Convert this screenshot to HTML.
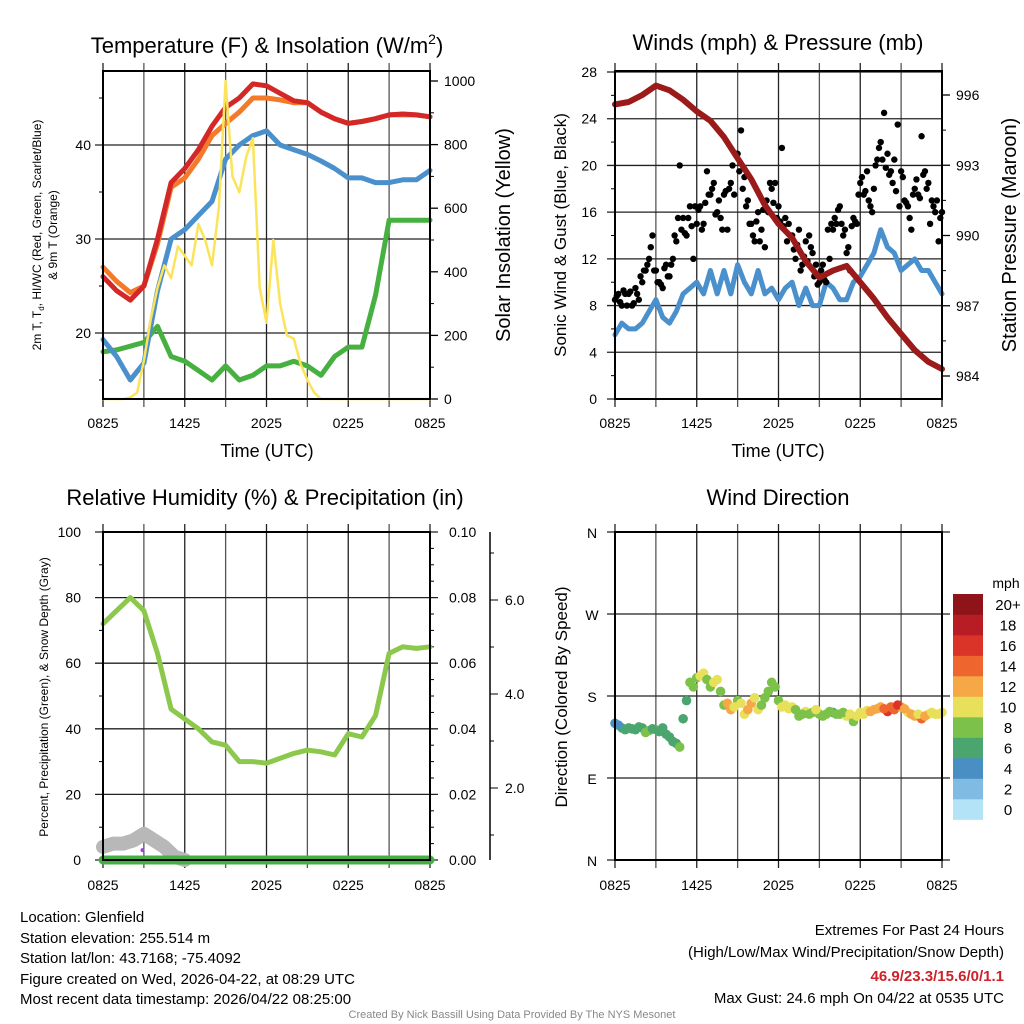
<!DOCTYPE html>
<html><head><meta charset="utf-8"><style>
html,body{margin:0;padding:0;background:#fff}
svg{display:block;font-family:"Liberation Sans",sans-serif}
</style></head><body>
<svg id="c" width="1024" height="1024" viewBox="0 0 1024 1024">
<g id="layer"></g>
<text x="267" y="53" font-size="22" text-anchor="middle">Temperature (F) &amp; Insolation (W/m<tspan dy="-9" font-size="14">2</tspan><tspan dy="9">)</tspan></text>
<text x="778" y="50" font-size="22" text-anchor="middle">Winds (mph) &amp; Pressure (mb)</text>
<text x="265" y="505" font-size="22" text-anchor="middle">Relative Humidity (%) &amp; Precipitation (in)</text>
<text x="778" y="505" font-size="22" text-anchor="middle">Wind Direction</text>
<text transform="translate(41,235) rotate(-90)" font-size="12" text-anchor="middle">2m T, T<tspan dy="3" font-size="8">d</tspan><tspan dy="-3">, HI/WC (Red, Green, Scarlet/Blue)</tspan></text>
<text transform="translate(57,235) rotate(-90)" font-size="12" text-anchor="middle">&amp; 9m T (Orange)</text>
<text transform="translate(510,235) rotate(-90)" font-size="20" text-anchor="middle">Solar Insolation (Yellow)</text>
<text transform="translate(566,235) rotate(-90)" font-size="17" text-anchor="middle">Sonic Wind &amp; Gust (Blue, Black)</text>
<text transform="translate(1016,235) rotate(-90)" font-size="20" text-anchor="middle">Station Pressure (Maroon)</text>
<text transform="translate(48,697) rotate(-90)" font-size="12" text-anchor="middle">Percent, Precipitation (Green), &amp; Snow Depth (Gray)</text>
<text transform="translate(567,697) rotate(-90)" font-size="17" text-anchor="middle">Direction (Colored By Speed)</text>
<text x="267" y="457" font-size="18" text-anchor="middle">Time (UTC)</text>
<text x="778" y="457" font-size="18" text-anchor="middle">Time (UTC)</text>
<text x="1006" y="588" font-size="14" text-anchor="middle">mph</text>
<g font-size="15">
<text x="20" y="922">Location: Glenfield</text>
<text x="20" y="943">Station elevation: 255.514 m</text>
<text x="20" y="963">Station lat/lon: 43.7168; -75.4092</text>
<text x="20" y="984">Figure created on Wed, 2026-04-22, at 08:29 UTC</text>
<text x="20" y="1004">Most recent data timestamp: 2026/04/22 08:25:00</text>
</g>
<g font-size="15" text-anchor="end">
<text x="1004" y="935">Extremes For Past 24 Hours</text>
<text x="1004" y="957">(High/Low/Max Wind/Precipitation/Snow Depth)</text>
<text x="1004" y="981" fill="#d0202a" font-weight="bold">46.9/23.3/15.6/0/1.1</text>
<text x="1004" y="1003">Max Gust: 24.6 mph On 04/22 at 0535 UTC</text>
</g>
<text x="512" y="1018" font-size="11" fill="#888" text-anchor="middle">Created By Nick Bassill Using Data Provided By The NYS Mesonet</text>
</svg>
<script>
// ---- data (hour offsets from 0825 UTC) ----
const hoursHourly = [0,1,2,3,4,5,6,7,8,9,10,11,12,13,14,15,16,17,18,19,20,21,22,23,24];
const tempRed = [26,24.5,23.5,25,30,36,37.5,39.5,42,44,45,46.5,46.3,45.5,44.7,44.5,43.5,42.8,42.3,42.5,42.8,43.2,43.3,43.2,43];
const temp9m = [27,25.5,24.3,25,29.5,35.5,36.5,38.5,41,42.3,43.5,45,45,44.8,44.5,44.5,43.5,42.8,42.3,42.5,42.8,43.2,43.2,43.2,43];
const hiwcBlue = [19.3,17.5,15,16.8,24.5,30,31,32.5,34,38.5,40,41,41.5,40,39.5,39,38.3,37.5,36.5,36.5,36,36,36.3,36.3,37.3];
const dewGreen = [18,18.2,18.6,19,20.7,17.5,17,16,15,16.5,15,15.5,16.5,16.5,17,16.5,15.5,17.5,18.5,18.5,24,32,32,32,32];
const solar = [0,0,0,0,5,20,120,250,350,420,380,480,450,420,550,500,420,600,1000,700,650,760,820,350,240,500,300,200,190,110,60,20,0,0,0,0,0,0,0,0,0,0,0,0,0,0,0,0,0];
const windSonic = [5.5,6.5,6,6,6.5,7.5,8.5,7,6.5,7.5,9,9.5,10,9,11,9,11,9,11.5,10,9,11,9,9.5,8.5,9.5,10,8,9.5,8,8,10,9.5,8.5,8.5,10,10.5,11.5,12.5,14.5,13,12.5,11,11.5,12,11,11,10,9];
const gusts = [8.5,9,8,9, 9,8,9.5,8.5, 10,11,12,14, 11,10,9.5,11.5, 10.5,12,13.5,20, 15.5,14,16.5,12, 15,16.5,15,19.5, 17.5,18.5,16,15.5, 17.5,14.5,18.5,17.5, 21,23,19,17, 15,13.5,16,14.5, 13,16,18,18.5, 16.5,21.5,15.5,15, 14,12,14.5,11.5, 13.5,14,12.5,11.5, 10,11.5,10,12, 14.5,15,16.5,14, 12.5,11,15.5,15, 18.5,17.5,19.5,16.5, 18,20.5,22,24.5, 21,19.5,20.5,23.5, 19.5,17,16.5,14.5, 18,17.5,22.5,19.5, 18.5,17,16,13.5, 16];
const gusts2 = [8.8,8.3,9.3,8, 9.2,8.2,9,10.5, 11,11.5,13,11, 10,9.8,11.2,10.5, 11.5,14,15.5,14.5, 14.2,15.5,14.8,16.5, 16.2,14.5,16.8,17.5, 18,15.8,17,14.5, 17.8,18,20,21, 19.5,18,16.5,15, 14,15.2,13.5,16.2, 17,18.5,16.8,15.5, 15.2,14.8,13.5,14, 12.8,13.2,11,12.2, 11.8,13,10.5,9.8, 11,10.2,14.5,15, 15.5,16.2,15,14.5, 13,14.8,15.2,17.5, 19,17.8,17,16, 20,21.5,20.5,19.8, 19.2,18.5,17.8,16.5, 19,16.8,15.5,17.5, 18.8,17.2,19.2,18, 15,16.5,17,15.5];
const pressure = [995.6,995.7,996.0,996.4,996.2,995.8,995.3,994.9,994.2,993.3,992.4,991.3,990.5,989.9,988.9,988.2,988.5,988.7,988.0,987.3,986.5,985.8,985.1,984.6,984.3];
const rh = [72,76,80,76,63,46,43,40,36,35,30,30,29.5,31,32.5,33.5,33,32,38.5,37.5,44,63,65,64.5,65];
const snowDepth = [4,5,5,6,8,6,4,1,0];
const windDir = [150,145,145,143,145,142,143,145,135,128,155,195,200,205,190,198,170,165,175,160,172,165,178,195,175,170,168,158,163,162,160,160,162,160,158,152,162,164,165,168,163,165,168,162,158,155,160,160,162];
const windSpd = [5,6,6,7,7,8,8,7,6,7,6,8,9,10,9,10,9,12,9,10,12,10,9,8,8,10,10,8,10,9,8,9,6,8,10,8,10,10,12,12,16,14,13,10,12,14,10,10,10];
const windDir2 = [148,143,144,146,140,144,141,138,130,124,175,190,202,198,195,185,172,168,172,165,178,170,185,190,168,166,165,160,160,165,158,163,160,162,160,158,160,163,166,166,168,170,166,160,160,158,162,160];
const windSpd2 = [5,6,7,7,8,7,7,6,6,8,7,8,10,9,10,9,12,10,10,12,10,9,8,9,10,10,9,9,8,10,9,8,8,9,10,10,10,12,12,14,15,16,12,12,10,13,10,10];
const xTickLabels = ["0825","1425","2025","0225","0825"];
const tempTicks = [20,30,40];
const solarTicks = [0,200,400,600,800,1000];
const windTicks = [0,4,8,12,16,20,24,28];
const pressTicks = [984,987,990,993,996];
const rhTicks = [0,20,40,60,80,100];
const precipTicks = ["0.00","0.02","0.04","0.06","0.08","0.10"];
const snowTicks = [2,4,6];
const dirLabels = ["N","E","S","W","N"];
const cbLabels = ["0","2","4","6","8","10","12","14","16","18","20+"];
const cbColors = ["#b3e3f7","#7fbbe3","#4a8fc4","#4aa56e","#7cc24a","#e8e05a","#f6a846","#ef652e","#da3328","#b81c24","#8f1419"];

const NS="http://www.w3.org/2000/svg";
const L=document.getElementById('layer');
function mk(tag,attrs,parent){const e=document.createElementNS(NS,tag);for(const k in attrs)e.setAttribute(k,attrs[k]);(parent||L).appendChild(e);return e;}
function txt(x,y,s,size,anchor,parent){const t=mk('text',{x:x,y:y,'font-size':size,'text-anchor':anchor},parent);t.textContent=s;return t;}
function lin(min,max,p0,p1){return v=>p0+(v-min)/(max-min)*(p1-p0);}

function panel(name){
  const g=mk('g',{});
  
  
  return g;
}
function frame(g,x0,x1,y0,y1,bottomLabelsY){
  const xs=lin(0,24,x0,x1);
  for(let h=0;h<=24;h+=3){
    const x=xs(h);
    const gl=mk('line',{x1:x,x2:x,y1:y0-8,y2:y1+8,stroke:(h%6==3)?'#555':'#222','stroke-width':1.3},g);
    
    
  }
  xTickLabels.forEach((s,i)=>{const t=txt(xs(i*6),bottomLabelsY,s,14,'middle',g);
    
    });
  return xs;
}
function border(g,x0,x1,y0,y1){const r=mk('rect',{x:x0,y:y0,width:x1-x0,height:y1-y0,fill:'none',stroke:'#000','stroke-width':2},g);
  
  }
function hgrid(g,y,x0,x1,tickL,tickR){const l=mk('line',{x1:x0-tickL,x2:x1+tickR,y1:y,y2:y,stroke:'#222','stroke-width':1.3},g);
  
  }
function poly(g,xsArr,ysArr,color,w,name){
  const pts=xsArr.map((x,i)=>x.toFixed(1)+','+ysArr[i].toFixed(1)).join(' ');
  const p=mk('polyline',{points:pts,fill:'none',stroke:color,'stroke-width':w,'stroke-linejoin':'round','stroke-linecap':'round'},g);
  
  
  return p;
}

// ---------- Panel 1: Temperature ----------
{
  const x0=103,x1=430,y0=71,y1=399;
  const g=panel('temperature');
  const xs=frame(g,x0,x1,y0,y1,428);
  const yT=lin(20,40,333,145);
  const yS=lin(0,1000,399,81);
  tempTicks.forEach(v=>{hgrid(g,yT(v),x0,x1,8,0);const t=txt(x0-12,yT(v)+5,String(v),14,'end',g);
    
    });
  [15,25,35,45].forEach(v=>mk('line',{x1:x0-4,x2:x0,y1:yT(v),y2:yT(v),stroke:'#000'},g));
  solarTicks.forEach(v=>{mk('line',{x1:x1,x2:x1+8,y1:yS(v),y2:yS(v),stroke:'#000','stroke-width':1.3},g);
    const t=txt(x1+14,yS(v)+5,String(v),14,'start',g);
    
    });
  for(let v=100;v<1000;v+=200)mk('line',{x1:x1,x2:x1+4,y1:yS(v),y2:yS(v),stroke:'#000'},g);
  const hx=hoursHourly.map(xs);
  poly(g,hx,dewGreen.map(yT),'#46b040',5,'dewpoint-line');
  poly(g,hx,hiwcBlue.map(yT),'#4a90cc',5,'heat-index-windchill-line');
  poly(g,hx,temp9m.map(yT),'#f47a2a',5,'temp-9m-line');
  poly(g,hx,tempRed.map(yT),'#d42828',5,'temp-2m-line');
  poly(g,solar.map((v,i)=>xs(i*0.5)),solar.map(yS),'#fce45a',2.5,'solar-insolation-line');
  border(g,x0,x1,y0,y1);
}
// ---------- Panel 2: Winds ----------
{
  const x0=615,x1=942,y0=71,y1=399;
  const g=panel('winds');
  const xs=frame(g,x0,x1,y0,y1,428);
  const yW=lin(0,28,399,72);
  const yP=lin(984,996,376,95);
  windTicks.forEach(v=>{hgrid(g,yW(v),x0,x1,8,0);const t=txt(x0-18,yW(v)+5,String(v),14,'end',g);
    
    });
  for(let v=2;v<28;v+=4)mk('line',{x1:x0-4,x2:x0,y1:yW(v),y2:yW(v),stroke:'#000'},g);
  pressTicks.forEach(v=>{mk('line',{x1:x1,x2:x1+8,y1:yP(v),y2:yP(v),stroke:'#000','stroke-width':1.3},g);
    const t=txt(x1+14,yP(v)+5,String(v),14,'start',g);
    
    });
  for(let v=985.5;v<997;v+=3)mk('line',{x1:x1,x2:x1+4,y1:yP(v),y2:yP(v),stroke:'#000'},g);
  poly(g,windSonic.map((v,i)=>xs(i*0.5)),windSonic.map(yW),'#4a90cc',5,'sonic-wind-line');
  gusts.forEach((v,i)=>{const c=mk('circle',{cx:xs(i*0.25),cy:yW(v),r:3.2,fill:'#000'},g);
    
    });
  gusts2.forEach((v,i)=>{const c=mk('circle',{cx:xs(i*0.25+0.125),cy:yW(v),r:3.2,fill:'#000'},g);
    
    });
  poly(g,hoursHourly.map(xs),pressure.map(yP),'#9b1a1a',6,'pressure-line');
  border(g,x0,x1,y0,y1);
}
// ---------- Panel 3: RH ----------
{
  const x0=103,x1=430,y0=532,y1=860;
  const g=panel('humidity');
  const xs=frame(g,x0,x1,y0,y1,890);
  const yR=lin(0,100,860,532);
  rhTicks.forEach((v,i)=>{hgrid(g,yR(v),x0,x1,8,8);const t=txt(x0-22,yR(v)+5,String(v),14,'end',g);
    
    
    const t2=txt(x1+19,yR(v)+5,precipTicks[i],14,'start',g);
    
    });
  for(let v=10;v<100;v+=20){mk('line',{x1:x0-4,x2:x0,y1:yR(v),y2:yR(v),stroke:'#000'},g);}
  for(let v=5;v<100;v+=5){if(v%20)mk('line',{x1:x1,x2:x1+4,y1:yR(v),y2:yR(v),stroke:'#000'},g);}
  const ySn=lin(0,2,882,788);
  const ax=mk('line',{x1:490,x2:490,y1:532,y2:860,stroke:'#000','stroke-width':1.5},g);
  
  
  snowTicks.forEach(v=>{mk('line',{x1:490,x2:498,y1:ySn(v),y2:ySn(v),stroke:'#000'},g);
    const t=txt(505,ySn(v)+5,v.toFixed(1),14,'start',g);
    
    });
  [1,3,5,7].forEach(v=>mk('line',{x1:490,x2:494,y1:ySn(v),y2:ySn(v),stroke:'#000'},g));
  poly(g,snowDepth.map((v,i)=>xs(i*0.75)),snowDepth.map(yR),'#b8b8b8',14,'snow-depth-line');
  poly(g,hoursHourly.map(xs),rh.map(yR),'#8cc84b',5,'relative-humidity-line');
  poly(g,[xs(0),xs(24)],[yR(0),yR(0)],'#44b044',9,'precipitation-line');
  mk('circle',{cx:xs(2.9),cy:yR(1.2)-6,r:2,fill:'#a040e0'},g);
  border(g,x0,x1,y0,y1);
}
// ---------- Panel 4: Wind direction ----------
{
  const x0=615,x1=942,y0=532,y1=860;
  const g=panel('wind-direction');
  const xs=frame(g,x0,x1,y0,y1,890);
  const yD=lin(0,360,860,532);
  dirLabels.forEach((s,i)=>{hgrid(g,yD(i*90),x0,x1,8,8);const t=txt(592,yD(i*90)+6,s,14,'middle',g);
    
    });
  windDir.forEach((d,i)=>{const k=Math.min(10,Math.floor(windSpd[i]/2));
    const c=mk('circle',{cx:xs(i*0.5),cy:yD(d),r:4.8,fill:cbColors[k]},g);
    
    });
  windDir2.forEach((d,i)=>{const k=Math.min(10,Math.floor(windSpd2[i]/2));
    const c=mk('circle',{cx:xs(i*0.5+0.25),cy:yD(d),r:4.8,fill:cbColors[k]},g);
    
    });
  border(g,x0,x1,y0,y1);
  const cb=mk('g',{});
  
  
  cbColors.forEach((c,i)=>{const y=799-i*20.5;mk('rect',{x:953,y:y,width:30,height:20.8,fill:c},cb);
    const t=txt(1008,y+16,cbLabels[i],15,'middle',cb);
    
    });
}
</script>
</body></html>
